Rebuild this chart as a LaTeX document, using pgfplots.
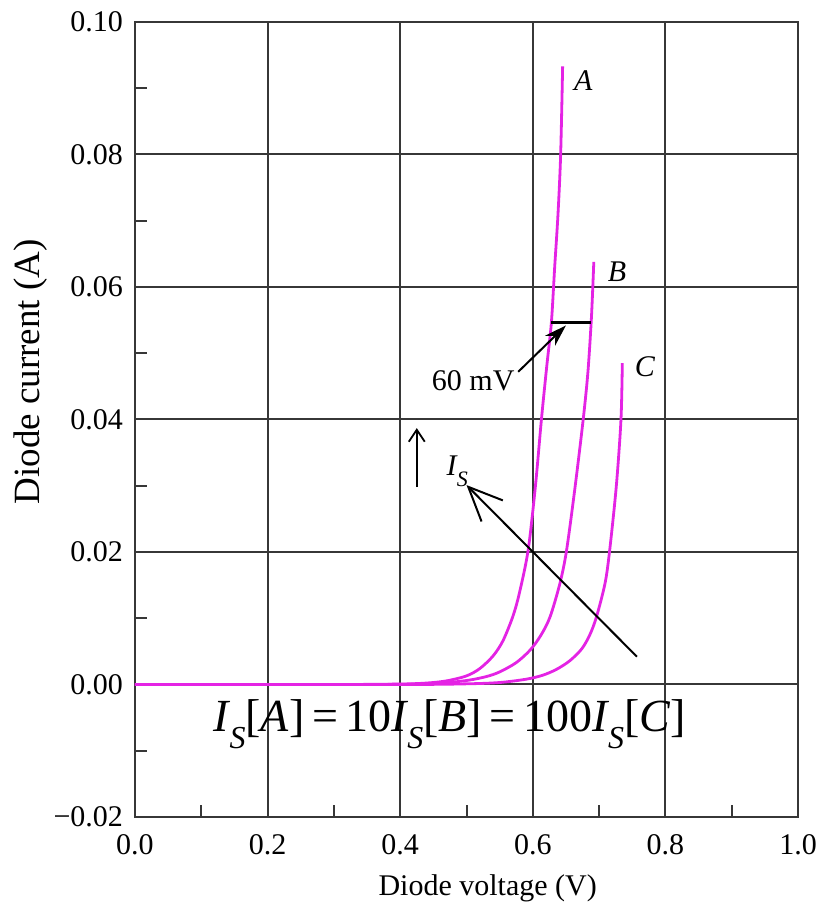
\documentclass[border=0pt]{standalone}
\usepackage{fontspec}
\setmainfont{Liberation Serif}
\usepackage{pgfplots}
\pgfplotsset{compat=1.18}
\usetikzlibrary{arrows.meta}
\definecolor{curve}{RGB}{228,35,228}
\definecolor{gridc}{RGB}{55,55,55}
\newcommand{\Is}[1]{\textit{I}\kern-0.03em\raisebox{-0.35em}{\fontsize{#1}{#1}\selectfont\textit{S}}}
\begin{document}
\begin{tikzpicture}
\begin{axis}[
 scale only axis, width=331.5pt, height=397.5pt,
 xmin=0, xmax=1, ymin=-0.02, ymax=0.10,
 xtick={0,0.2,0.4,0.6,0.8,1.0},
 xticklabels={0.0,0.2,0.4,0.6,0.8,1.0},
 ytick={-0.02,0,0.02,0.04,0.06,0.08,0.10},
 yticklabels={−0.02,0.00,0.02,0.04,0.06,0.08,0.10},
 minor xtick={0.1,0.3,0.5,0.7,0.9},
 minor ytick={-0.01,0.01,0.03,0.05,0.07,0.09},
 xmajorgrids, ymajorgrids,
 major grid style={gridc, line width=1pt},
 axis line style={gridc, line width=1pt},
 tick pos=left, tick align=inside,
 major tick length=0pt, minor tick length=6pt,
 minor tick style={gridc, line width=1pt},
 ticklabel style={font=\fontsize{15}{17}\selectfont},
 xticklabel style={yshift=-5pt},
 yticklabel style={xshift=-2.5pt},
 scaled ticks=false,
 clip=false,
]
\addplot[curve, line width=1.4pt, smooth] coordinates {
 (0,0) (0.30,0) (0.40,0.00007) (0.44,0.00022) (0.47,0.00055) (0.50,0.0013)
 (0.52,0.0024) (0.54,0.0043) (0.555,0.0066) (0.57,0.0103) (0.58,0.0139)
 (0.593,0.0203) (0.604,0.030) (0.613,0.040) (0.621,0.048) (0.628,0.0546)
 (0.633,0.063) (0.638,0.071) (0.642,0.080) (0.645,0.0933)};
\addplot[curve, line width=1.4pt, smooth] coordinates {
 (0,0) (0.35,0) (0.45,0.00015) (0.50,0.0006) (0.53,0.0012) (0.55,0.0019)
 (0.575,0.0033) (0.596,0.0052) (0.612,0.0074) (0.626,0.0102) (0.641,0.0153)
 (0.651,0.0203) (0.664,0.030) (0.676,0.040) (0.683,0.047) (0.688,0.0546)
 (0.6905,0.060) (0.692,0.0638)};
\addplot[curve, line width=1.4pt, smooth] coordinates {
 (0,0) (0.40,0) (0.50,0.0001) (0.55,0.0003) (0.59,0.0008) (0.615,0.0014)
 (0.636,0.0023) (0.656,0.0036) (0.674,0.0054) (0.686,0.0075) (0.696,0.0102)
 (0.709,0.0153) (0.716,0.0203) (0.726,0.030) (0.733,0.040) (0.735,0.0485)};

\node[font=\fontsize{15}{17}\selectfont\itshape] at (axis cs:0.676,0.0912) {A};
\node[font=\fontsize{15}{17}\selectfont\itshape] at (axis cs:0.727,0.0623) {B};
\node[font=\fontsize{15}{17}\selectfont\itshape] at (axis cs:0.769,0.0479) {C};
\draw[black, line width=1.3pt] (axis cs:0.628,0.0546) -- (axis cs:0.688,0.0546);
\draw[black, line width=1pt, -{Stealth[length=11pt,width=7pt]}] (axis cs:0.578,0.0472) -- (axis cs:0.650,0.0542);
\node[font=\fontsize{15}{17}\selectfont, anchor=east] at (axis cs:0.583,0.0458) {60 mV};
\draw[black, line width=0.9pt, -{Straight Barb[length=6pt,width=8pt]}] (axis cs:0.425,0.0298) -- (axis cs:0.425,0.0387);
\node[font=\fontsize{15}{17}\selectfont] at (axis cs:0.486,0.0322) {\Is{11pt}};
\draw[black, line width=1pt, -{Straight Barb[length=17pt,width=15pt]}] (axis cs:0.757,0.0042) -- (axis cs:0.500,0.0301);
\node[font=\fontsize{23}{26}\selectfont] at (axis cs:0.475,-0.0060) {\Is{16pt}[\textit{A}]\,=\,10\Is{16pt}[\textit{B}]\,=\,100\Is{16pt}[\textit{C}]};

\node[rotate=90, font=\fontsize{18.5}{21}\selectfont] at (rel axis cs:-0.158,0.56) {Diode current (A)};
\node[font=\fontsize{15}{17}\selectfont] at (rel axis cs:0.532,-0.090) {Diode voltage (V)};
\coordinate (sw) at (rel axis cs:0,0);
\coordinate (ne) at (rel axis cs:1,1);
\end{axis}
\pgfresetboundingbox
\path[use as bounding box] ([shift={(-67.5pt,-43pt)}]sw) rectangle ([shift={(17.5pt,11pt)}]ne);
\end{tikzpicture}
\end{document}
